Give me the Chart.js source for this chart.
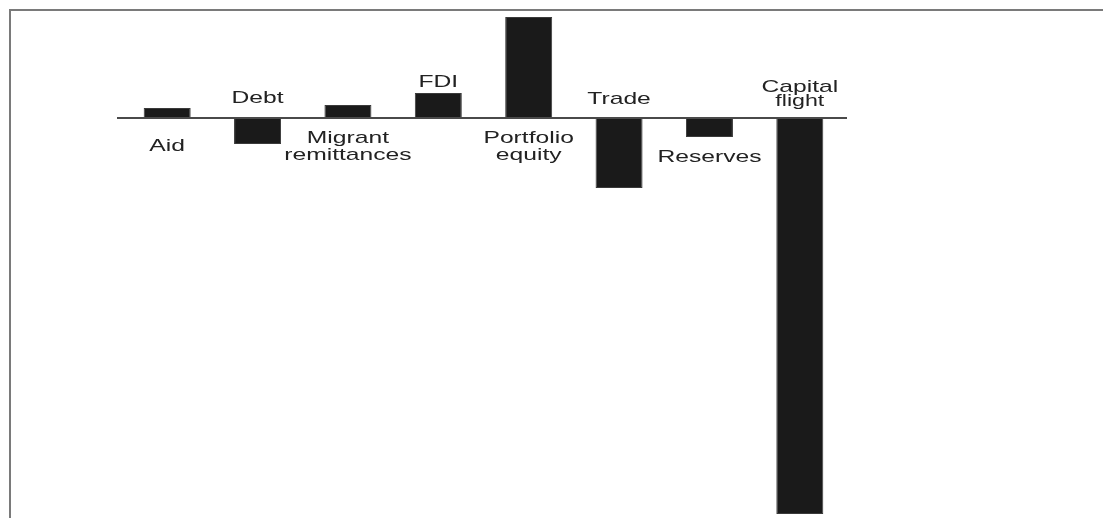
<!DOCTYPE html>
<html>
<head>
<meta charset="utf-8">
<script src="https://cdn.jsdelivr.net/npm/chart.js@4.4.1/dist/chart.umd.min.js"></script>
<style>
  body { margin: 0; background: #fff; }
  canvas { display: block; }
</style>
</head>
<body>
<canvas id="flows" width="1103" height="518"></canvas>
<script>
// Financial flows (relative size, arbitrary units)
const categories = ["Aid", "Debt", "Migrant remittances", "FDI", "Portfolio equity", "Trade", "Reserves", "Capital flight"];
const flowValues = [10, -26, 13, 25, 101, -70, -19, -396];
// how each name is written on the picture (line breaks)
const labelLines = [["Aid"], ["Debt"], ["Migrant", "remittances"], ["FDI"], ["Portfolio", "equity"], ["Trade"], ["Reserves"], ["Capital", "flight"]];

// where the text sits: anchor = "base" (zero line) or "end" (bar end), dy = first line baseline offset
const labelPlace = [
  { anchor: "base", dy: 33 },
  { anchor: "base", dy: -15 },
  { anchor: "base", dy: 25 },
  { anchor: "end", dy: -6 },
  { anchor: "base", dy: 25 },
  { anchor: "base", dy: -14 },
  { anchor: "end", dy: 25 },
  { anchor: "base", dy: -26 },
];

// frame + zero line + the category names
const flowDecor = {
  id: "flowDecor",
  afterDatasetsDraw(chart) {
    const ctx = chart.ctx;
    const yScale = chart.scales.y;
    const zeroY = yScale.getPixelForValue(0);
    const meta = chart.getDatasetMeta(0);

    ctx.save();
    // top and left frame lines
    ctx.strokeStyle = "#7a7a7a";
    ctx.lineWidth = 2;
    ctx.beginPath();
    ctx.moveTo(10, 518);
    ctx.lineTo(10, 10);
    ctx.lineTo(1103, 10);
    ctx.stroke();

    // zero line
    ctx.strokeStyle = "#4a4a4a";
    ctx.lineWidth = 2;
    ctx.beginPath();
    ctx.moveTo(chart.chartArea.left - 5, zeroY);
    ctx.lineTo(chart.chartArea.right + 2, zeroY);
    ctx.stroke();

    // labels (text in the source is stretched sideways)
    ctx.fillStyle = "#222";
    ctx.textAlign = "center";
    ctx.textBaseline = "alphabetic";
    meta.data.forEach((bar, i) => {
      const place = labelPlace[i];
      const startY = (place.anchor === "end" ? bar.y : zeroY) + place.dy;
      labelLines[i].forEach((line, j) => {
        const size = (i === 7 && j === 1) ? 16 : 17;
        ctx.font = size + "px 'Liberation Sans', Arial, sans-serif";
        const gap = (i === 7) ? 14 : 17;
        ctx.save();
        ctx.translate(bar.x, startY + j * gap);
        ctx.scale(1.45, 1);
        ctx.fillText(line, 0, 0);
        ctx.restore();
      });
    });
    ctx.restore();
  },
};

const ctx = document.getElementById("flows").getContext("2d");
new Chart(ctx, {
  type: "bar",
  data: {
    labels: categories,
    datasets: [
      {
        data: flowValues,
        backgroundColor: "#1a1a1a",
        borderColor: "#3a3a3a",
        borderWidth: 1,
        borderSkipped: false,
        categoryPercentage: 1,
        barPercentage: 0.52,
      },
    ],
  },
  options: {
    responsive: false,
    animation: false,
    layout: { padding: { left: 122, right: 258, top: 10, bottom: 0 } },
    plugins: { legend: { display: false }, tooltip: { enabled: false } },
    scales: {
      x: { display: false },
      y: { display: false, min: -400, max: 108 },
    },
  },
  plugins: [flowDecor],
});
</script>
</body>
</html>
